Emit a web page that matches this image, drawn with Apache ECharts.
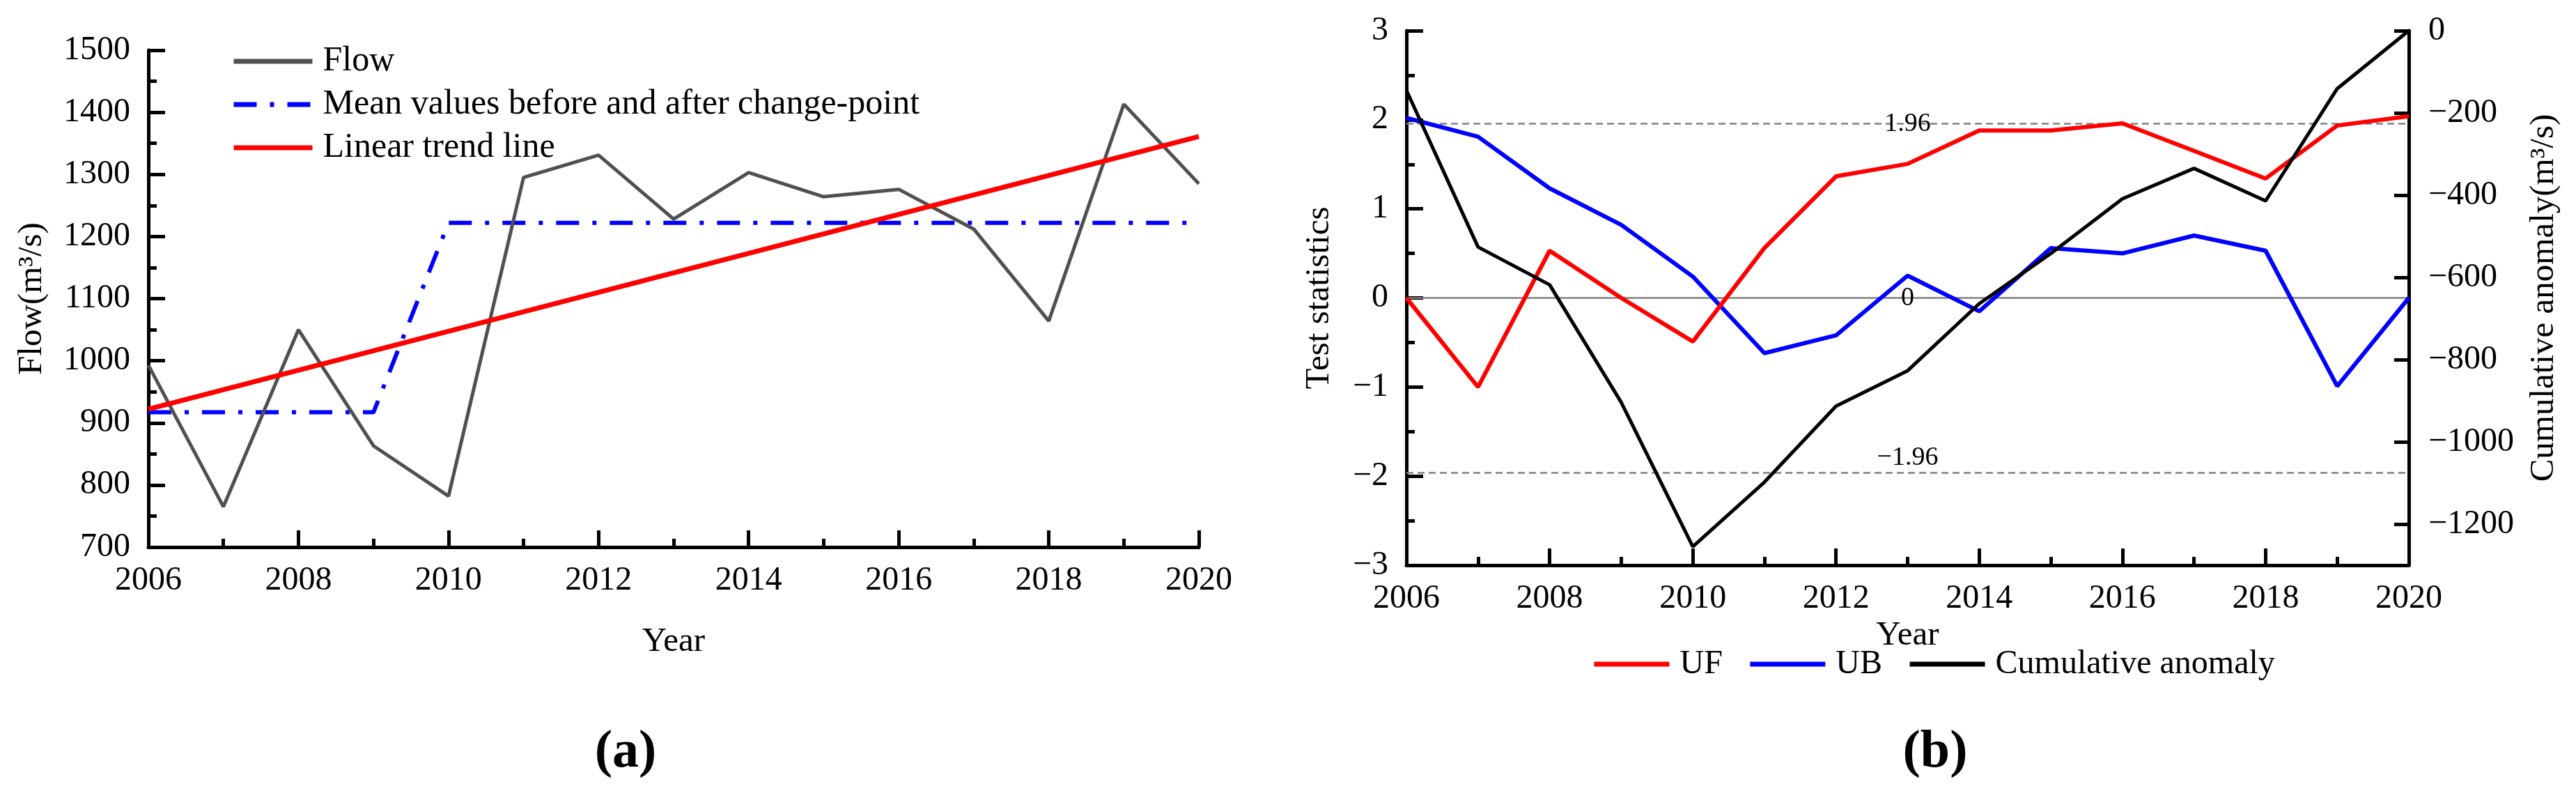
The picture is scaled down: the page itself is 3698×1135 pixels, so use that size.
<!DOCTYPE html>
<html><head><meta charset="utf-8">
<script src="https://cdn.jsdelivr.net/npm/echarts@6/dist/echarts.min.js"></script>
<style>html,body{margin:0;padding:0;background:#fff;}#c{width:3698px;height:1135px;}</style>
</head><body><div id="c"></div>
<script>
// ---- data ----
const years = [2006,2007,2008,2009,2010,2011,2012,2013,2014,2015,2016,2017,2018,2019,2020];
const flow = [993,765,1050,863,782,1295,1331,1228,1303,1264,1276,1212,1064,1413,1285];
const meanFlow = [917,917,917,917,1222,1222,1222,1222,1222,1222,1222,1222,1222,1222,1222];
const trendYears = [2006,2020];
const trendFlow = [922,1361];
const uf = [0,-1.0,0.53,0.0,-0.49,0.56,1.365,1.505,1.88,1.88,1.96,1.65,1.34,1.935,2.04];
const ub = [2.02,1.81,1.23,0.82,0.24,-0.62,-0.42,0.25,-0.15,0.56,0.50,0.70,0.53,-0.99,0.0];
const cumAnom = [-145,-526,-618,-904,-1255,-1098,-913,-827,-664,-542,-409,-335,-414,-141,0];
const anomTicks = [0,-200,-400,-600,-800,-1000,-1200];
const critLevels = [1.96,0,-1.96];
const critLabels = ['1.96','0','\u22121.96'];

const FONT = "'Liberation Serif','Times New Roman',serif";
const pair = (xs, ys) => xs.map((x,i)=>[x, ys[i]]);
const minus = v => String(v).replace('-', '\u2212');
const plain = v => String(v);

function axisBase(extra){
  return Object.assign({
    axisLine:{show:true, onZero:false, lineStyle:{color:'#000', width:5}},
    axisTick:{show:true, inside:true, length:24, lineStyle:{color:'#000', width:5}},
    minorTick:{show:true, splitNumber:2, length:12, lineStyle:{color:'#000', width:5}},
    splitLine:{show:false},
    axisLabel:{color:'#000', fontFamily:FONT, fontSize:48, margin:26, formatter:minus},
    nameTextStyle:{color:'#000', fontFamily:FONT, fontSize:49},
    nameLocation:'middle'
  }, extra);
}

const panelRich = {p:{fontFamily:FONT,fontSize:76,lineHeight:90,color:'#000'},
                   b:{fontFamily:FONT,fontSize:76,lineHeight:90,fontWeight:'bold',color:'#000'}};

const chart = echarts.init(document.getElementById('c'), null, {renderer:'canvas'});
chart.setOption({
  backgroundColor:'#fff',
  animation:false,
  title:[
    {text:'{p|(}{b|a}{p|)}', left:893, top:1030, textAlign:'center', textStyle:{rich:panelRich}},
    {text:'{p|(}{b|b}{p|)}', left:2773, top:1030, textAlign:'center', textStyle:{rich:panelRich}}
  ],
  grid:[
    {left:213, top:72, width:1508, height:713},
    {left:2019, top:44, width:1439, height:767}
  ],
  legend:[
    {orient:'vertical', left:327, top:58, itemWidth:113, itemHeight:20, itemGap:12, selectedMode:false,
     data:['Flow','Mean values before and after change-point','Linear trend line'],
     itemStyle:{opacity:0, borderWidth:0},
     lineStyle:{width:7},
     textStyle:{fontFamily:FONT, fontSize:50, color:'#000', lineHeight:50, padding:[0,0,0,10]}},
    {orient:'horizontal', left:2280, top:924, itemWidth:108, itemHeight:20, itemGap:36, selectedMode:false,
     data:['UF','UB','Cumulative anomaly'],
     itemStyle:{opacity:0, borderWidth:0},
     lineStyle:{width:7},
     textStyle:{fontFamily:FONT, fontSize:48, color:'#000', lineHeight:48, padding:[0,0,0,10]}}
  ],
  xAxis:[
    axisBase({type:'value', gridIndex:0, min:2006, max:2020, interval:2, name:'Year', nameGap:112,
      axisLabel:{color:'#000', fontFamily:FONT, fontSize:48, margin:24, formatter:plain}}),
    axisBase({type:'value', gridIndex:1, min:2006, max:2020, interval:2, name:'Year', nameGap:72,
      axisLabel:{color:'#000', fontFamily:FONT, fontSize:48, margin:24, formatter:plain}})
  ],
  yAxis:[
    axisBase({type:'value', gridIndex:0, min:700, max:1500, interval:100, name:'Flow(m\u00b3/s)', nameGap:142}),
    axisBase({type:'value', gridIndex:1, min:-3, max:3, interval:1, name:'Test statistics', nameGap:100}),
    axisBase({type:'value', gridIndex:1, position:'right', min:-1300, max:0,
      name:'Cumulative anomaly(m\u00b3/s)', nameGap:170, nameRotate:90,
      axisTick:{show:true, inside:true, length:21, customValues:anomTicks, lineStyle:{color:'#000', width:5}},
      minorTick:{show:false},
      axisLabel:{color:'#000', fontFamily:FONT, fontSize:48, margin:28, customValues:anomTicks, formatter:minus}})
  ],
  series:[
    {name:'Mean values before and after change-point', type:'line', xAxisIndex:0, yAxisIndex:0,
     data:pair(years, meanFlow), symbol:'none',
     lineStyle:{color:'#0000ff', width:6, type:[33,19,6,19], cap:'butt'}, itemStyle:{color:'#0000ff'}},
    {name:'Flow', type:'line', xAxisIndex:0, yAxisIndex:0, data:pair(years, flow), symbol:'none',
     lineStyle:{color:'#505050', width:5}, itemStyle:{color:'#505050'}},
    {name:'Linear trend line', type:'line', xAxisIndex:0, yAxisIndex:0, data:pair(trendYears, trendFlow), symbol:'none',
     lineStyle:{color:'#ff0000', width:7}, itemStyle:{color:'#ff0000'}},
    {name:'UB', type:'line', xAxisIndex:1, yAxisIndex:1, data:pair(years, ub), symbol:'none',
     lineStyle:{color:'#0000ff', width:6}, itemStyle:{color:'#0000ff'},
     markLine:{silent:true, symbol:'none', z:1,
       data: critLevels.map((v,i)=>({yAxis:v,
         lineStyle:{color:'#808080', width:2.5, type: v===0 ? 'solid' : [10,6]},
         label:{show:true, position:'middle', formatter:critLabels[i], color:'#000', fontFamily:FONT, fontSize:38,
                distance: v<0 ? 2 : -20}}))}},
    {name:'UF', type:'line', xAxisIndex:1, yAxisIndex:1, data:pair(years, uf), symbol:'none',
     lineStyle:{color:'#ff0000', width:6}, itemStyle:{color:'#ff0000'}},
    {name:'Cumulative anomaly', type:'line', xAxisIndex:1, yAxisIndex:2, data:pair(years, cumAnom), symbol:'none',
     lineStyle:{color:'#000000', width:5}, itemStyle:{color:'#000000'}}
  ]
});
</script></body></html>
